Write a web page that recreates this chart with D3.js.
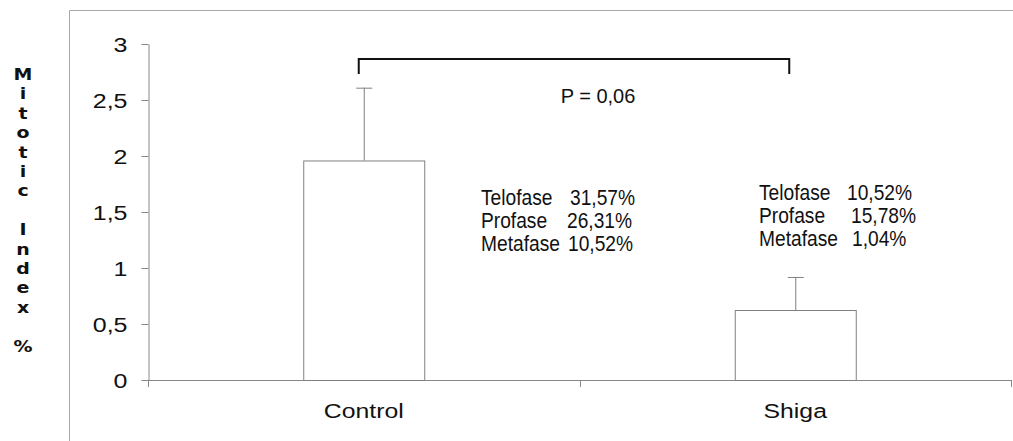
<!DOCTYPE html>
<html>
<head>
<meta charset="utf-8">
<script src="https://cdn.jsdelivr.net/npm/d3@7"></script>
<style>
  body { margin: 0; background: #fff; }
  text { font-family: "Liberation Sans", Arial, sans-serif; fill: #111; }
</style>
</head>
<body>
<svg id="chart" width="1013" height="441"></svg>
<script>
// data
var categories = ['Control', 'Shiga'];
var meanValues = [1.96, 0.625];
var errorTops = [2.61, 0.92];
var yTicks = [0, 0.5, 1, 1.5, 2, 2.5, 3];
var phaseLabels = ['Telofase', 'Profase', 'Metafase'];
var controlPhases = ['31,57%', '26,31%', '10,52%'];
var shigaPhases = ['10,52%', '15,78%', '1,04%'];
var pValueText = 'P = 0,06';
var yLabelChars = 'Mitotic Index %';

var svg = d3.select('#chart');

var x = d3.scaleBand().domain(categories).range([148, 1011]);
var y = d3.scaleLinear().domain([0, 3]).range([380, 44]);

// outer frame (left and top only are visible)
svg.append('path')
  .attr('d', 'M69.5,441 V10.5 H1013')
  .attr('fill', 'none')
  .attr('stroke', '#a8a8a8')
  .attr('stroke-width', 1);

// y axis
var yAxis = svg.append('g')
  .attr('transform', 'translate(148.5,0)')
  .call(d3.axisLeft(y).tickValues(yTicks).tickSize(7).tickSizeOuter(0)
    .tickFormat(function(d) { return String(d).replace('.', ','); }));
yAxis.select('.domain').attr('stroke', '#888');
yAxis.selectAll('.tick line').attr('stroke', '#888');
yAxis.selectAll('.tick text')
  .attr('x', 0)
  .attr('dy', '0.36em')
  .attr('transform', 'translate(-21,0) scale(1.25,1)')
  .style('font-size', '20px')
  .style('font-family', '"Liberation Sans", Arial, sans-serif')
  .attr('fill', '#111');

// x axis: ticks at category boundaries
var boundaries = [148, 148 + x.bandwidth(), 1011];
svg.append('line')
  .attr('x1', 148).attr('x2', 1011)
  .attr('y1', y(0) + 0.5).attr('y2', y(0) + 0.5)
  .attr('stroke', '#888');
svg.selectAll('.xtick').data(boundaries).enter().append('line')
  .attr('class', 'xtick')
  .attr('x1', function(d) { return Math.round(d) + 0.5; })
  .attr('x2', function(d) { return Math.round(d) + 0.5; })
  .attr('y1', y(0)).attr('y2', y(0) + 7)
  .attr('stroke', '#888');

svg.selectAll('.xlabel').data(categories).enter().append('text')
  .attr('class', 'xlabel')
  .attr('transform', function(d) {
    return 'translate(' + (x(d) + x.bandwidth() / 2) + ',418) scale(1.18,1)';
  })
  .attr('text-anchor', 'middle')
  .style('font-size', '21px')
  .text(function(d) { return d; });

// bars
var barW = 121;
svg.selectAll('.bar').data(categories).enter().append('rect')
  .attr('class', 'bar')
  .attr('x', function(d) { return x(d) + x.bandwidth() / 2 - barW / 2 + 0.5; })
  .attr('y', function(d, i) { return y(meanValues[i]) + 0.5; })
  .attr('width', barW)
  .attr('height', function(d, i) { return y(0) - y(meanValues[i]); })
  .attr('fill', '#fff')
  .attr('stroke', '#808080');

// error bars (upper only)
var err = svg.selectAll('.err').data(categories).enter().append('g').attr('class', 'err');
err.append('line')
  .attr('x1', function(d) { return x(d) + x.bandwidth() / 2 + 0.5; })
  .attr('x2', function(d) { return x(d) + x.bandwidth() / 2 + 0.5; })
  .attr('y1', function(d, i) { return y(meanValues[i]); })
  .attr('y2', function(d, i) { return y(errorTops[i]); })
  .attr('stroke', '#808080');
err.append('line')
  .attr('x1', function(d) { return x(d) + x.bandwidth() / 2 - 7.5; })
  .attr('x2', function(d) { return x(d) + x.bandwidth() / 2 + 8.5; })
  .attr('y1', function(d, i) { return y(errorTops[i]) + 0.5; })
  .attr('y2', function(d, i) { return y(errorTops[i]) + 0.5; })
  .attr('stroke', '#808080');

// significance bracket
var bx1 = x('Control') + x.bandwidth() / 2 - 5;
var bx2 = x('Shiga') + x.bandwidth() / 2 - 6;
svg.append('path')
  .attr('d', 'M' + bx1 + ',74 V59 H' + bx2 + ' V74')
  .attr('fill', 'none')
  .attr('stroke', '#111')
  .attr('stroke-width', 2);
svg.append('text')
  .attr('x', 598).attr('y', 103)
  .attr('text-anchor', 'middle')
  .style('font-size', '20px')
  .text(pValueText);

// phase annotations
function phaseBlock(values, left, valueX, baselines) {
  var g = svg.append('g');
  g.selectAll('.pl').data(phaseLabels).enter().append('text')
    .attr('transform', function(d, i) {
      return 'translate(' + left + ',' + baselines[i] + ') scale(0.96,1.08)';
    })
    .style('font-size', '20px')
    .text(function(d) { return d; });
  g.selectAll('.pv').data(values).enter().append('text')
    .attr('transform', function(d, i) {
      return 'translate(' + valueX[i] + ',' + baselines[i] + ') scale(0.96,1.08)';
    })
    .style('font-size', '20px')
    .text(function(d) { return d; });
}
phaseBlock(controlPhases, 481, [570, 567, 568], [205, 228, 251]);
phaseBlock(shigaPhases, 759, [847, 851, 852], [200, 223, 246]);

// stacked y axis label, one letter per row
var chars = yLabelChars.split('').filter(function(c) { return c !== ' '; });
var rows = [];
yLabelChars.split('').forEach(function(c, i) { if (c !== ' ') rows.push(i); });
svg.append('g')
  .attr('transform', 'translate(23,0) scale(1.15,1)')
  .selectAll('text').data(chars).enter().append('text')
  .attr('x', 0)
  .attr('y', function(d, i) { return 80 + rows[i] * 19.4; })
  .attr('text-anchor', 'middle')
  .style('font-family', '"DejaVu Sans", Verdana, sans-serif')
  .style('font-weight', 'bold')
  .style('font-size', '16.5px')
  .text(function(d) { return d; });
</script>
</body>
</html>
